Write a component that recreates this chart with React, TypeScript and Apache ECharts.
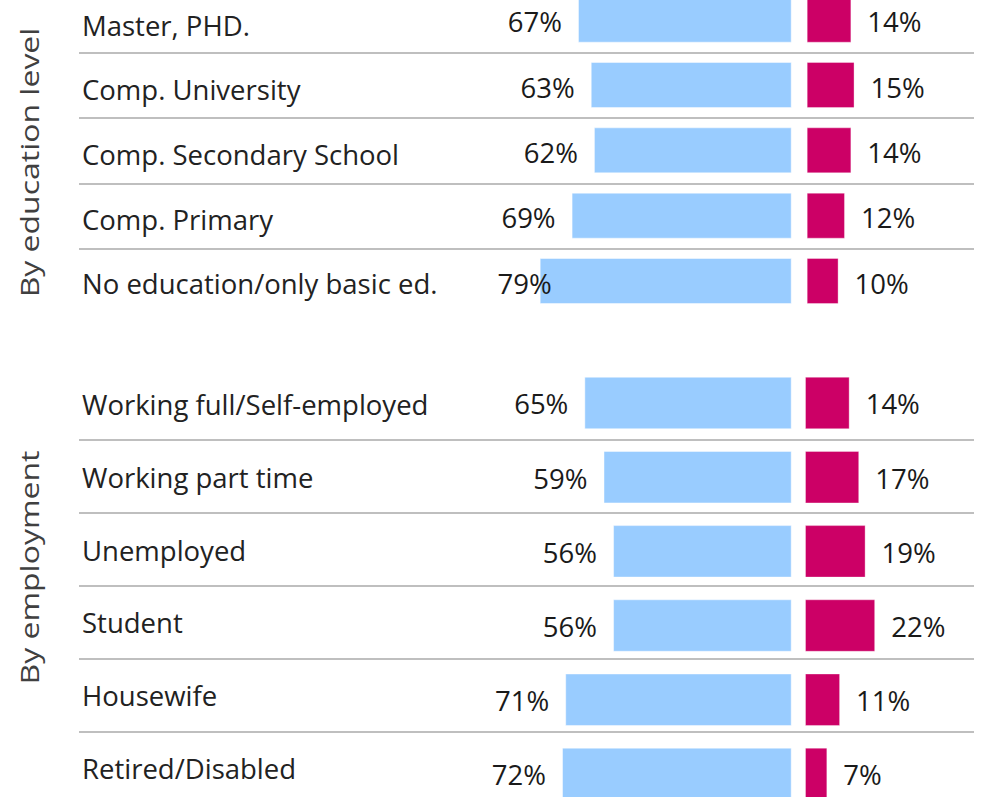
import React, { useEffect, useRef } from "react";
import * as echarts from "echarts";

// ---------- data ----------
const eduCategories = [
  "Master, PHD.",
  "Comp. University",
  "Comp. Secondary School",
  "Comp. Primary",
  "No education/only basic ed.",
];
const eduBlue = [67, 63, 62, 69, 79];
const eduPink = [14, 15, 14, 12, 10];

const empCategories = [
  "Working full/Self-employed",
  "Working part time",
  "Unemployed",
  "Student",
  "Housewife",
  "Retired/Disabled",
];
const empBlue = [65, 59, 56, 56, 71, 72];
const empPink = [14, 17, 19, 22, 11, 7];

const groupTitles = ["By education level", "By employment"];

// ---------- layout / style ----------
const W = 983;
const H = 797;
const PAD = 30; // canvas extends beyond the visible page so that rows can be cut off
const ROW_LEFT = 79;
const ROW_RIGHT = 974;
const PX_PER_PCT = 3.19;
const BLUE_ZERO = 791.7;
const PINK_ZERO_EDU = 806.7;
const PINK_ZERO_EMP = 805;
const BLUE = "#99CCFF";
const PINK = "#CC0066";
const GRID_LINE = "#BFBFBF";
const FONT = "'Open Sans', 'Noto Sans', sans-serif";
const FS = 27.5;
const TITLE_FS = 26;
// one label in the original sits nudged to the right
const eduBlueLabelShift = [0, 0, 0, 0, 28];

const blueAxis = (gridIndex: number) => ({
  type: "value",
  gridIndex,
  show: false,
  inverse: true,
  min: -(ROW_RIGHT - BLUE_ZERO) / PX_PER_PCT,
  max: (BLUE_ZERO - ROW_LEFT) / PX_PER_PCT,
});
const pinkAxis = (gridIndex: number, zero: number) => ({
  type: "value",
  gridIndex,
  show: false,
  min: -(zero - ROW_LEFT) / PX_PER_PCT,
  max: (ROW_RIGHT - zero) / PX_PER_PCT,
});
const dummyX = (gridIndex: number) => ({
  type: "value",
  gridIndex,
  show: false,
  min: 0,
  max: 1,
});
// row separators
const tableY = (gridIndex: number, cats: string[]) => ({
  type: "category",
  gridIndex,
  data: cats,
  inverse: true,
  axisLine: { show: false },
  axisTick: { show: false },
  axisLabel: { show: false },
  splitLine: {
    show: true,
    showMinLine: false,
    showMaxLine: false,
    lineStyle: { color: GRID_LINE, width: 2 },
  },
});
// row labels
const labelY = (gridIndex: number, cats: string[]) => ({
  type: "category",
  gridIndex,
  data: cats,
  inverse: true,
  axisLine: { show: false },
  axisTick: { show: false },
  splitLine: { show: false },
  axisLabel: {
    inside: true,
    margin: 3,
    fontSize: FS,
    fontFamily: FONT,
    color: "#222222",
  },
});
const barY = (gridIndex: number, cats: string[]) => ({
  type: "category",
  gridIndex,
  data: cats,
  inverse: true,
  show: false,
});

const labelStyle = (position: string, dy: number) => ({
  show: true,
  position,
  distance: 16,
  formatter: "{c}%",
  fontSize: FS,
  fontFamily: FONT,
  color: "#1A1A1A",
  offset: [0, dy],
});

const gridAt = (top: number, height: number) => ({
  left: ROW_LEFT,
  right: W - ROW_RIGHT,
  top: top + PAD,
  height,
});

export default function App() {
  const ref = useRef<HTMLDivElement>(null);

  useEffect(() => {
    if (!ref.current) return;
    const chart = echarts.init(ref.current, null, { renderer: "svg" });

    const title = (text: string, y: number) => ({
      type: "text",
      x: 29,
      y: y + PAD,
      rotation: Math.PI / 2,
      scaleX: 1.23,
      style: {
        text,
        font: `${TITLE_FS}px ${FONT}`,
        fill: "#404040",
        align: "center",
        verticalAlign: "middle",
      },
    });

    const option: any = {
      animation: false,
      backgroundColor: "#ffffff",
      grid: [
        gridAt(-13.3, 327.8), // 0 edu separators
        gridAt(-7.35, 323.5), // 1 edu labels
        gridAt(-12.97, 326.65), // 2 edu bars
        gridAt(367, 438), // 3 emp separators
        gridAt(368.1, 436.8), // 4 emp labels
        gridAt(365.9, 445.1), // 5 emp bars
      ],
      xAxis: [
        dummyX(0),
        dummyX(1),
        blueAxis(2),
        pinkAxis(2, PINK_ZERO_EDU),
        dummyX(3),
        dummyX(4),
        blueAxis(5),
        pinkAxis(5, PINK_ZERO_EMP),
      ],
      yAxis: [
        tableY(0, eduCategories),
        labelY(1, eduCategories),
        barY(2, eduCategories),
        tableY(3, empCategories),
        labelY(4, empCategories),
        barY(5, empCategories),
      ],
      series: [
        {
          type: "bar",
          xAxisIndex: 2,
          yAxisIndex: 2,
          barWidth: 46,
          barGap: "-100%",
          itemStyle: { color: BLUE, borderColor: "rgba(255,255,255,0.45)", borderWidth: 1 },
          label: labelStyle("left", 2),
          data: eduBlue.map((v, i) =>
            eduBlueLabelShift[i]
              ? { value: v, label: { offset: [eduBlueLabelShift[i], 2] } }
              : v
          ),
        },
        {
          type: "bar",
          xAxisIndex: 3,
          yAxisIndex: 2,
          barWidth: 46,
          barGap: "-100%",
          itemStyle: { color: PINK, borderColor: "rgba(255,255,255,0.35)", borderWidth: 1 },
          label: labelStyle("right", 2),
          data: eduPink,
        },
        {
          type: "bar",
          xAxisIndex: 6,
          yAxisIndex: 5,
          barWidth: 52.5,
          barGap: "-100%",
          itemStyle: { color: BLUE, borderColor: "rgba(255,255,255,0.45)", borderWidth: 1 },
          label: labelStyle("left", 1),
          data: empBlue,
        },
        {
          type: "bar",
          xAxisIndex: 7,
          yAxisIndex: 5,
          barWidth: 52.5,
          barGap: "-100%",
          itemStyle: { color: PINK, borderColor: "rgba(255,255,255,0.35)", borderWidth: 1 },
          label: labelStyle("right", 1),
          data: empPink,
        },
      ],
      graphic: [title(groupTitles[0], 162.5), title(groupTitles[1], 567.5)],
    };

    chart.setOption(option);
    return () => chart.dispose();
  }, []);

  return (
    <div style={{ position: "absolute", left: 0, top: 0, width: W, height: H, overflow: "hidden" }}>
      <div
        ref={ref}
        style={{ position: "absolute", left: 0, top: -PAD, width: W, height: H + 2 * PAD }}
      />
    </div>
  );
}
